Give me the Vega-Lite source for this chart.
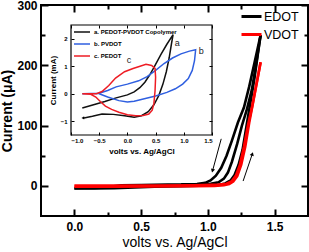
{
  "$schema": "https://vega.github.io/schema/vega-lite/v6.json",
  "width": 267,
  "height": 211,
  "autosize": {"type": "none"},
  "padding": {"left": 41, "top": 5, "right": 1, "bottom": 36},
  "config": {
    "font": "Liberation Sans",
    "view": {"stroke": "black", "strokeWidth": 2},
    "axis": {"grid": false, "domain": false, "ticks": true, "tickColor": "black", "tickOpacity": 1, "labelColor": "black", "titleColor": "black", "zindex": 1}
  },
  "layer": [
    {
      "layer": [
        {
          "data": {"values": [
            {"s": "EDOT", "g": "E1", "o": 1, "v": 0, "i": -4},
            {"s": "EDOT", "g": "E1", "o": 2, "v": 0.15, "i": -4.5},
            {"s": "EDOT", "g": "E1", "o": 3, "v": 0.3, "i": -4},
            {"s": "EDOT", "g": "E1", "o": 4, "v": 0.45, "i": -2.5},
            {"s": "EDOT", "g": "E1", "o": 5, "v": 0.6, "i": -1.5},
            {"s": "EDOT", "g": "E1", "o": 6, "v": 0.8, "i": -0.5},
            {"s": "EDOT", "g": "E1", "o": 7, "v": 1.0, "i": 0.5},
            {"s": "EDOT", "g": "E1", "o": 8, "v": 1.08, "i": 1.5},
            {"s": "EDOT", "g": "E1", "o": 9, "v": 1.13, "i": 4},
            {"s": "EDOT", "g": "E1", "o": 10, "v": 1.17, "i": 9},
            {"s": "EDOT", "g": "E1", "o": 11, "v": 1.2, "i": 18},
            {"s": "EDOT", "g": "E1", "o": 12, "v": 1.23, "i": 35},
            {"s": "EDOT", "g": "E1", "o": 13, "v": 1.26, "i": 60},
            {"s": "EDOT", "g": "E1", "o": 14, "v": 1.29, "i": 100},
            {"s": "EDOT", "g": "E1", "o": 15, "v": 1.32, "i": 140},
            {"s": "EDOT", "g": "E1", "o": 16, "v": 1.35, "i": 180},
            {"s": "EDOT", "g": "E1", "o": 17, "v": 1.375, "i": 220},
            {"s": "EDOT", "g": "E1", "o": 18, "v": 1.395, "i": 250},
            {"s": "EDOT", "g": "E2", "o": 1, "v": 1.395, "i": 250},
            {"s": "EDOT", "g": "E2", "o": 2, "v": 1.36, "i": 200},
            {"s": "EDOT", "g": "E2", "o": 3, "v": 1.33, "i": 160},
            {"s": "EDOT", "g": "E2", "o": 4, "v": 1.29, "i": 125},
            {"s": "EDOT", "g": "E2", "o": 5, "v": 1.255, "i": 100},
            {"s": "EDOT", "g": "E2", "o": 6, "v": 1.22, "i": 70},
            {"s": "EDOT", "g": "E2", "o": 7, "v": 1.18, "i": 40},
            {"s": "EDOT", "g": "E2", "o": 8, "v": 1.15, "i": 22},
            {"s": "EDOT", "g": "E2", "o": 9, "v": 1.12, "i": 12},
            {"s": "EDOT", "g": "E2", "o": 10, "v": 1.08, "i": 6},
            {"s": "EDOT", "g": "E2", "o": 11, "v": 1.02, "i": 3.5},
            {"s": "EDOT", "g": "E2", "o": 12, "v": 0.9, "i": 2.5},
            {"s": "EDOT", "g": "E2", "o": 13, "v": 0.7, "i": 2},
            {"s": "EDOT", "g": "E2", "o": 14, "v": 0.5, "i": 1.5},
            {"s": "EDOT", "g": "E2", "o": 15, "v": 0.35, "i": 1},
            {"s": "EDOT", "g": "E2", "o": 16, "v": 0.28, "i": -1},
            {"s": "EDOT", "g": "E2", "o": 17, "v": 0.2, "i": -3},
            {"s": "EDOT", "g": "E2", "o": 18, "v": 0.1, "i": -4},
            {"s": "EDOT", "g": "E2", "o": 19, "v": 0, "i": -4.5},
            {"s": "EDOT", "g": "E3", "o": 1, "v": 1.395, "i": 250},
            {"s": "EDOT", "g": "E3", "o": 2, "v": 1.35, "i": 205},
            {"s": "EDOT", "g": "E3", "o": 3, "v": 1.31, "i": 165},
            {"s": "EDOT", "g": "E3", "o": 4, "v": 1.27, "i": 130},
            {"s": "EDOT", "g": "E3", "o": 5, "v": 1.225, "i": 105},
            {"s": "EDOT", "g": "E3", "o": 6, "v": 1.18, "i": 75},
            {"s": "EDOT", "g": "E3", "o": 7, "v": 1.14, "i": 50},
            {"s": "EDOT", "g": "E3", "o": 8, "v": 1.1, "i": 30},
            {"s": "EDOT", "g": "E3", "o": 9, "v": 1.06, "i": 17},
            {"s": "EDOT", "g": "E3", "o": 10, "v": 1.02, "i": 9},
            {"s": "EDOT", "g": "E3", "o": 11, "v": 0.98, "i": 5},
            {"s": "EDOT", "g": "E3", "o": 12, "v": 0.92, "i": 3},
            {"s": "EDOT", "g": "E3", "o": 13, "v": 0.8, "i": 2.5},
            {"s": "VDOT", "g": "V1", "o": 1, "v": 0, "i": -1.5},
            {"s": "VDOT", "g": "V1", "o": 2, "v": 0.3, "i": -1.5},
            {"s": "VDOT", "g": "V1", "o": 3, "v": 0.6, "i": -1},
            {"s": "VDOT", "g": "V1", "o": 4, "v": 0.9, "i": -0.5},
            {"s": "VDOT", "g": "V1", "o": 5, "v": 1.05, "i": 0},
            {"s": "VDOT", "g": "V1", "o": 6, "v": 1.12, "i": 1},
            {"s": "VDOT", "g": "V1", "o": 7, "v": 1.16, "i": 3},
            {"s": "VDOT", "g": "V1", "o": 8, "v": 1.19, "i": 7},
            {"s": "VDOT", "g": "V1", "o": 9, "v": 1.22, "i": 16},
            {"s": "VDOT", "g": "V1", "o": 10, "v": 1.25, "i": 35},
            {"s": "VDOT", "g": "V1", "o": 11, "v": 1.28, "i": 65},
            {"s": "VDOT", "g": "V1", "o": 12, "v": 1.31, "i": 105},
            {"s": "VDOT", "g": "V1", "o": 13, "v": 1.34, "i": 140},
            {"s": "VDOT", "g": "V1", "o": 14, "v": 1.37, "i": 175},
            {"s": "VDOT", "g": "V1", "o": 15, "v": 1.395, "i": 205},
            {"s": "VDOT", "g": "V2", "o": 1, "v": 1.395, "i": 205},
            {"s": "VDOT", "g": "V2", "o": 2, "v": 1.36, "i": 165},
            {"s": "VDOT", "g": "V2", "o": 3, "v": 1.33, "i": 130},
            {"s": "VDOT", "g": "V2", "o": 4, "v": 1.3, "i": 100},
            {"s": "VDOT", "g": "V2", "o": 5, "v": 1.27, "i": 65},
            {"s": "VDOT", "g": "V2", "o": 6, "v": 1.24, "i": 35},
            {"s": "VDOT", "g": "V2", "o": 7, "v": 1.21, "i": 17},
            {"s": "VDOT", "g": "V2", "o": 8, "v": 1.18, "i": 8},
            {"s": "VDOT", "g": "V2", "o": 9, "v": 1.14, "i": 3.5},
            {"s": "VDOT", "g": "V2", "o": 10, "v": 1.08, "i": 2},
            {"s": "VDOT", "g": "V2", "o": 11, "v": 0.9, "i": 1},
            {"s": "VDOT", "g": "V2", "o": 12, "v": 0.6, "i": 0.5},
            {"s": "VDOT", "g": "V2", "o": 13, "v": 0.3, "i": 0.5},
            {"s": "VDOT", "g": "V2", "o": 14, "v": 0, "i": 0.5}
          ]},
          "mark": {"type": "line", "strokeWidth": 2.6},
          "encoding": {
            "x": {"field": "v", "type": "quantitative",
              "scale": {"domain": [-0.25, 1.75], "nice": false, "zero": false},
              "axis": {"orient": "bottom", "offset": -7, "values": [0, 0.5, 1, 1.5], "format": ".1f",
                "tickSize": 7, "tickWidth": 2, "labelFontSize": 12, "labelFontWeight": "bold", "labelPadding": 5,
                "title": "volts vs. Ag/AgCl", "titleFontSize": 14, "titleFontWeight": "normal", "titlePadding": 3}},
            "y": {"field": "i", "type": "quantitative",
              "scale": {"domain": [-50, 300], "nice": false, "zero": false},
              "axis": {"orient": "left", "offset": -7, "values": [0, 100, 200, 300], "format": "d",
                "tickSize": 7, "tickWidth": 2, "labelFontSize": 12, "labelFontWeight": "bold", "labelPadding": 4,
                "title": "Current (μA)", "titleFontSize": 14, "titleFontWeight": "bold", "titlePadding": 2}},
            "color": {"field": "s", "type": "nominal",
              "scale": {"domain": ["EDOT", "VDOT"], "range": ["#000000", "#ff0000"]},
              "legend": {"orient": "none", "legendX": 199, "legendY": 0, "title": null, "padding": 0,
                "symbolType": "stroke", "symbolSize": 400, "symbolStrokeWidth": 3,
                "labelFontSize": 12.5, "labelOffset": 1, "rowPadding": -9, "labelColor": "black"}},
            "detail": {"field": "g"},
            "order": {"field": "o", "type": "quantitative"}
          }
        },
        {
          "data": {"values": [
            {"x": 1.1, "y": 78, "x2": 1.035, "y2": 25},
            {"x": 1.264, "y": 8, "x2": 1.333, "y2": 53}
          ]},
          "mark": {"type": "rule", "strokeWidth": 1, "color": "black"},
          "encoding": {
            "x": {"field": "x", "type": "quantitative",
              "axis": {"orient": "top", "offset": -7, "values": [0, 0.5, 1, 1.5], "labels": false, "title": null, "tickSize": 7, "tickWidth": 2}},
            "y": {"field": "y", "type": "quantitative",
              "axis": {"orient": "right", "offset": -7, "values": [0, 100, 200, 300], "labels": false, "title": null, "tickSize": 7, "tickWidth": 2}},
            "x2": {"field": "x2"},
            "y2": {"field": "y2"}
          }
        },
        {
          "data": {"values": [{"x": 1.035, "y": 25}]},
          "mark": {"type": "point", "shape": "triangle-down", "angle": 16, "filled": true, "color": "black", "size": 18, "opacity": 1},
          "encoding": {
            "x": {"field": "x", "type": "quantitative",
              "axis": {"orient": "bottom", "offset": -4, "values": [0.25, 0.75, 1.25], "labels": false, "title": null, "tickSize": 4, "tickWidth": 2}},
            "y": {"field": "y", "type": "quantitative",
              "axis": {"orient": "left", "offset": -4, "values": [50, 150, 250], "labels": false, "title": null, "tickSize": 4, "tickWidth": 2}}
          }
        },
        {
          "data": {"values": [{"x": 1.333, "y": 53}]},
          "mark": {"type": "point", "shape": "triangle-up", "angle": 19, "filled": true, "color": "black", "size": 18, "opacity": 1},
          "encoding": {
            "x": {"field": "x", "type": "quantitative",
              "axis": {"orient": "top", "offset": -4, "values": [0.25, 0.75, 1.25], "labels": false, "title": null, "tickSize": 4, "tickWidth": 2}},
            "y": {"field": "y", "type": "quantitative",
              "axis": {"orient": "right", "offset": -4, "values": [50, 150, 250], "labels": false, "title": null, "tickSize": 4, "tickWidth": 2}}
          }
        }
      ],
      "resolve": {"axis": {"x": "independent", "y": "independent"}}
    },
    {
      "layer": [
        {
          "data": {"values": [{"x": -1, "x2": 1.5, "y": -1.5, "y2": 2.5}]},
          "mark": {"type": "rect", "fill": "white", "stroke": "black", "strokeWidth": 1.2},
          "encoding": {
            "x": {"field": "x", "type": "quantitative",
              "scale": {"domain": [-1, 1.5], "range": [30, 171], "nice": false, "zero": false},
              "axis": {"orient": "bottom", "offset": -84, "values": [-1, -0.5, 0, 0.5, 1, 1.5], "format": ".1f",
                "tickSize": 3, "tickWidth": 1, "labelFontSize": 6, "labelFontWeight": "bold", "labelPadding": 2,
                "title": "volts vs. Ag/AgCl", "titleFontSize": 8, "titleFontWeight": "bold", "titlePadding": 4, "zindex": 2}},
            "x2": {"field": "x2"},
            "y": {"field": "y", "type": "quantitative",
              "scale": {"domain": [-1.5, 2.5], "range": [130, 20], "nice": false, "zero": false},
              "axis": {"orient": "left", "offset": -33, "values": [-1, 0, 1, 2],
                "tickSize": 3, "tickWidth": 1, "labelFontSize": 6, "labelFontWeight": "bold", "labelPadding": 4,
                "title": "Current (mA)", "titleFontSize": 8, "titleFontWeight": "bold", "titlePadding": 3, "zindex": 2}},
            "y2": {"field": "y2"}
          }
        },
        {
          "data": {"values": [
            {"s": "a.  PEDOT-PVDOT Copolymer", "o": 1, "v": -0.8, "i": -0.52},
            {"s": "a.  PEDOT-PVDOT Copolymer", "o": 2, "v": -0.6, "i": -0.4},
            {"s": "a.  PEDOT-PVDOT Copolymer", "o": 3, "v": -0.4, "i": -0.28},
            {"s": "a.  PEDOT-PVDOT Copolymer", "o": 4, "v": -0.2, "i": -0.15},
            {"s": "a.  PEDOT-PVDOT Copolymer", "o": 5, "v": 0.0, "i": -0.04},
            {"s": "a.  PEDOT-PVDOT Copolymer", "o": 6, "v": 0.12, "i": 0.07},
            {"s": "a.  PEDOT-PVDOT Copolymer", "o": 7, "v": 0.22, "i": 0.22},
            {"s": "a.  PEDOT-PVDOT Copolymer", "o": 8, "v": 0.31, "i": 0.42},
            {"s": "a.  PEDOT-PVDOT Copolymer", "o": 9, "v": 0.4, "i": 0.7},
            {"s": "a.  PEDOT-PVDOT Copolymer", "o": 10, "v": 0.5, "i": 1.07},
            {"s": "a.  PEDOT-PVDOT Copolymer", "o": 11, "v": 0.6, "i": 1.45},
            {"s": "a.  PEDOT-PVDOT Copolymer", "o": 12, "v": 0.7, "i": 1.8},
            {"s": "a.  PEDOT-PVDOT Copolymer", "o": 13, "v": 0.81, "i": 2.15},
            {"s": "a.  PEDOT-PVDOT Copolymer", "o": 14, "v": 0.78, "i": 1.8},
            {"s": "a.  PEDOT-PVDOT Copolymer", "o": 15, "v": 0.74, "i": 1.3},
            {"s": "a.  PEDOT-PVDOT Copolymer", "o": 16, "v": 0.69, "i": 0.8},
            {"s": "a.  PEDOT-PVDOT Copolymer", "o": 17, "v": 0.63, "i": 0.35},
            {"s": "a.  PEDOT-PVDOT Copolymer", "o": 18, "v": 0.56, "i": -0.05},
            {"s": "a.  PEDOT-PVDOT Copolymer", "o": 19, "v": 0.47, "i": -0.4},
            {"s": "a.  PEDOT-PVDOT Copolymer", "o": 20, "v": 0.37, "i": -0.65},
            {"s": "a.  PEDOT-PVDOT Copolymer", "o": 21, "v": 0.25, "i": -0.8},
            {"s": "a.  PEDOT-PVDOT Copolymer", "o": 22, "v": 0.12, "i": -0.85},
            {"s": "a.  PEDOT-PVDOT Copolymer", "o": 23, "v": -0.05, "i": -0.8},
            {"s": "a.  PEDOT-PVDOT Copolymer", "o": 24, "v": -0.25, "i": -0.75},
            {"s": "a.  PEDOT-PVDOT Copolymer", "o": 25, "v": -0.45, "i": -0.74},
            {"s": "a.  PEDOT-PVDOT Copolymer", "o": 26, "v": -0.62, "i": -0.82},
            {"s": "a.  PEDOT-PVDOT Copolymer", "o": 27, "v": -0.77, "i": -0.88},
            {"s": "b.  PVDOT", "o": 1, "v": -0.8, "i": 0},
            {"s": "b.  PVDOT", "o": 2, "v": -0.5, "i": 0.02},
            {"s": "b.  PVDOT", "o": 3, "v": -0.35, "i": 0.12},
            {"s": "b.  PVDOT", "o": 4, "v": -0.2, "i": 0.25},
            {"s": "b.  PVDOT", "o": 5, "v": 0.0, "i": 0.35},
            {"s": "b.  PVDOT", "o": 6, "v": 0.2, "i": 0.47},
            {"s": "b.  PVDOT", "o": 7, "v": 0.35, "i": 0.62},
            {"s": "b.  PVDOT", "o": 8, "v": 0.5, "i": 0.85},
            {"s": "b.  PVDOT", "o": 9, "v": 0.65, "i": 1.1},
            {"s": "b.  PVDOT", "o": 10, "v": 0.8, "i": 1.3},
            {"s": "b.  PVDOT", "o": 11, "v": 0.95, "i": 1.45},
            {"s": "b.  PVDOT", "o": 12, "v": 1.1, "i": 1.55},
            {"s": "b.  PVDOT", "o": 13, "v": 1.21, "i": 1.6},
            {"s": "b.  PVDOT", "o": 14, "v": 1.19, "i": 1.2},
            {"s": "b.  PVDOT", "o": 15, "v": 1.15, "i": 0.85},
            {"s": "b.  PVDOT", "o": 16, "v": 1.08, "i": 0.55},
            {"s": "b.  PVDOT", "o": 17, "v": 0.98, "i": 0.35},
            {"s": "b.  PVDOT", "o": 18, "v": 0.85, "i": 0.18},
            {"s": "b.  PVDOT", "o": 19, "v": 0.7, "i": 0.05},
            {"s": "b.  PVDOT", "o": 20, "v": 0.5, "i": -0.08},
            {"s": "b.  PVDOT", "o": 21, "v": 0.3, "i": -0.18},
            {"s": "b.  PVDOT", "o": 22, "v": 0.12, "i": -0.27},
            {"s": "b.  PVDOT", "o": 23, "v": 0.0, "i": -0.3},
            {"s": "b.  PVDOT", "o": 24, "v": -0.15, "i": -0.25},
            {"s": "b.  PVDOT", "o": 25, "v": -0.35, "i": -0.12},
            {"s": "b.  PVDOT", "o": 26, "v": -0.5, "i": 0},
            {"s": "c.  PEDOT", "o": 1, "v": -0.8, "i": 0},
            {"s": "c.  PEDOT", "o": 2, "v": -0.55, "i": 0},
            {"s": "c.  PEDOT", "o": 3, "v": -0.45, "i": 0.08},
            {"s": "c.  PEDOT", "o": 4, "v": -0.33, "i": 0.3},
            {"s": "c.  PEDOT", "o": 5, "v": -0.21, "i": 0.57},
            {"s": "c.  PEDOT", "o": 6, "v": -0.05, "i": 0.8},
            {"s": "c.  PEDOT", "o": 7, "v": 0.1, "i": 0.92},
            {"s": "c.  PEDOT", "o": 8, "v": 0.21, "i": 0.99},
            {"s": "c.  PEDOT", "o": 9, "v": 0.33, "i": 1.07},
            {"s": "c.  PEDOT", "o": 10, "v": 0.43, "i": 1.03},
            {"s": "c.  PEDOT", "o": 11, "v": 0.49, "i": 0.92},
            {"s": "c.  PEDOT", "o": 12, "v": 0.5, "i": 0.6},
            {"s": "c.  PEDOT", "o": 13, "v": 0.49, "i": 0.1},
            {"s": "c.  PEDOT", "o": 14, "v": 0.47, "i": -0.35},
            {"s": "c.  PEDOT", "o": 15, "v": 0.44, "i": -0.6},
            {"s": "c.  PEDOT", "o": 16, "v": 0.38, "i": -0.74},
            {"s": "c.  PEDOT", "o": 17, "v": 0.28, "i": -0.79},
            {"s": "c.  PEDOT", "o": 18, "v": 0.15, "i": -0.8},
            {"s": "c.  PEDOT", "o": 19, "v": 0.0, "i": -0.76},
            {"s": "c.  PEDOT", "o": 20, "v": -0.15, "i": -0.67},
            {"s": "c.  PEDOT", "o": 21, "v": -0.28, "i": -0.57},
            {"s": "c.  PEDOT", "o": 22, "v": -0.39, "i": -0.45},
            {"s": "c.  PEDOT", "o": 23, "v": -0.48, "i": -0.28},
            {"s": "c.  PEDOT", "o": 24, "v": -0.56, "i": -0.12},
            {"s": "c.  PEDOT", "o": 25, "v": -0.65, "i": -0.02},
            {"s": "c.  PEDOT", "o": 26, "v": -0.8, "i": 0}
          ]},
          "mark": {"type": "line", "strokeWidth": 1.5},
          "encoding": {
            "x": {"field": "v", "type": "quantitative",
              "axis": {"orient": "top", "offset": -23, "values": [-1, -0.5, 0, 0.5, 1, 1.5], "labels": false, "title": null, "tickSize": 3, "tickWidth": 1, "zindex": 2}},
            "y": {"field": "i", "type": "quantitative",
              "axis": {"orient": "right", "offset": -99, "values": [-1, 0, 1, 2], "labels": false, "title": null, "tickSize": 3, "tickWidth": 1, "zindex": 2}},
            "color": {"field": "s", "type": "nominal",
              "scale": {"domain": ["a.  PEDOT-PVDOT Copolymer", "b.  PVDOT", "c.  PEDOT"], "range": ["#111111", "#2f5fe0", "#ee1c24"]},
              "legend": {"orient": "none", "legendX": 32, "legendY": 18, "title": null, "padding": 0,
                "symbolType": "stroke", "symbolSize": 256, "symbolStrokeWidth": 1.5,
                "labelFontSize": 6, "labelFontWeight": "bold", "labelOffset": 3, "rowPadding": -12, "labelColor": "black"}},
            "order": {"field": "o", "type": "quantitative"}
          }
        },
        {
          "data": {"values": [
            {"t": "a", "v": 0.885, "i": 1.83},
            {"t": "b", "v": 1.31, "i": 1.56},
            {"t": "c", "v": 0.03, "i": 1.22}
          ]},
          "mark": {"type": "text", "fontSize": 9, "color": "#222222"},
          "encoding": {
            "x": {"field": "v", "type": "quantitative", "axis": null},
            "y": {"field": "i", "type": "quantitative", "axis": null},
            "text": {"field": "t"}
          }
        },
        {
          "data": {"values": [{"v": -0.79, "i": -0.88}]},
          "mark": {"type": "point", "shape": "triangle-left", "filled": true, "color": "black", "size": 10, "opacity": 1},
          "encoding": {
            "x": {"field": "v", "type": "quantitative", "axis": null},
            "y": {"field": "i", "type": "quantitative", "axis": null}
          }
        }
      ]
    }
  ],
  "resolve": {"scale": {"x": "independent", "y": "independent", "color": "independent"}}
}
